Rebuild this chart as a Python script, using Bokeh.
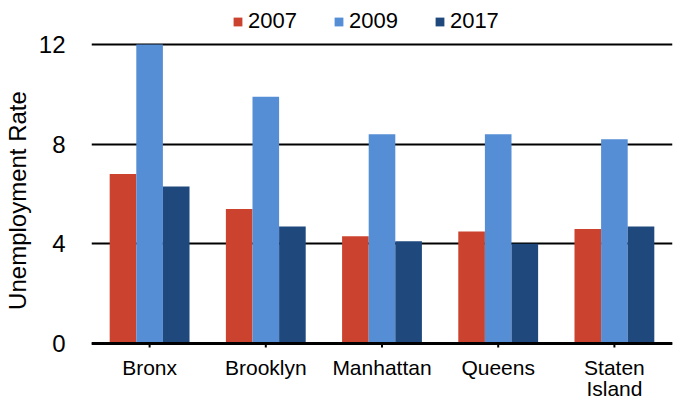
from bokeh.plotting import figure
from bokeh.models import ColumnDataSource, Range1d, FactorRange, Legend, LegendItem, FixedTicker, Span
from bokeh.core.properties import value
from bokeh.transform import dodge
from bokeh.embed import file_html
from bokeh.resources import INLINE

boroughs = ["Bronx", "Brooklyn", "Manhattan", "Queens", "Staten Island"]
label_line1 = ["Bronx", "Brooklyn", "Manhattan", "Queens", "Staten"]
label_line2 = ["", "", "", "", "Island"]
series_names = ["2007", "2009", "2017"]
rate_2007 = [6.8, 5.4, 4.3, 4.5, 4.6]
rate_2009 = [12.0, 9.9, 8.4, 8.4, 8.2]
rate_2017 = [6.3, 4.7, 4.1, 4.0, 4.7]
y_ticks = [0, 4, 8, 12]

src = ColumnDataSource(dict(b=boroughs, y07=rate_2007, y09=rate_2009, y17=rate_2017,
                            l1=label_line1, l2=label_line2))

FONT = "Liberation Sans"
H = 400
zero_px = 343      # pixel row of value 0
top_px = 44        # pixel row of value 12
ppu = (zero_px - top_px) / 12.0
y_lo = -(H - zero_px) / ppu
y_hi = zero_px / ppu

p = figure(width=674, height=H, x_range=FactorRange(*boroughs), y_range=Range1d(y_lo, y_hi),
           output_backend="svg", toolbar_location=None,
           min_border_left=82, min_border_right=2, min_border_top=0, min_border_bottom=0)
p.outline_line_color = None
p.xaxis.visible = False

# x tick marks
p.rect(x="b", y=0, width=2, height=8, width_units="screen", height_units="screen",
       source=src, fill_color="black", line_color=None)

w = 0.229
r1 = p.vbar(x=dodge("b", -w, range=p.x_range), top="y07", width=w, source=src,
            fill_color="#CB432E", line_color=None)
r2 = p.vbar(x=dodge("b", 0, range=p.x_range), top="y09", width=w, source=src,
            fill_color="#558ED5", line_color=None)
r3 = p.vbar(x=dodge("b", w, range=p.x_range), top="y17", width=w, source=src,
            fill_color="#1F497D", line_color=None)

# category labels
p.text(x="b", y=0, text="l1", source=src, y_offset=12, text_align="center",
       text_baseline="top", text_font=value(FONT), text_font_size="21px", text_color="black")
p.text(x="b", y=0, text="l2", source=src, y_offset=33, text_align="center",
       text_baseline="top", text_font=value(FONT), text_font_size="21px", text_color="black")

p.add_layout(Span(location=0, dimension="width", line_color="black", line_width=3))

p.xgrid.grid_line_color = None
p.ygrid.grid_line_color = "black"
p.ygrid.grid_line_width = 2
p.yaxis.ticker = FixedTicker(ticks=y_ticks)
p.yaxis.axis_line_color = None
p.yaxis.major_tick_line_color = None
p.yaxis.minor_tick_line_color = None
p.yaxis.major_label_standoff = 20
p.yaxis.major_label_text_font = FONT
p.yaxis.major_label_text_font_size = "24px"
p.yaxis.major_label_text_color = "black"
p.yaxis.axis_label = "Unemployment Rate"
p.yaxis.axis_label_text_font = FONT
p.yaxis.axis_label_text_font_size = "24px"
p.yaxis.axis_label_text_font_style = "normal"
p.yaxis.axis_label_text_color = "black"
p.yaxis.axis_label_standoff = 5
p.x_range.range_padding = 0

legend = Legend(items=[LegendItem(label=series_names[0], renderers=[r1]),
                       LegendItem(label=series_names[1], renderers=[r2]),
                       LegendItem(label=series_names[2], renderers=[r3])],
                orientation="horizontal", location=(141, H - 34),
                label_text_font=FONT, label_text_font_size="22px", label_text_color="black",
                glyph_width=11, glyph_height=11, label_standoff=5, label_height=22,
                spacing=36, padding=0, margin=0, border_line_color=None,
                background_fill_alpha=0)
p.add_layout(legend, "center")

open("out.html", "w").write(file_html(p, INLINE))
